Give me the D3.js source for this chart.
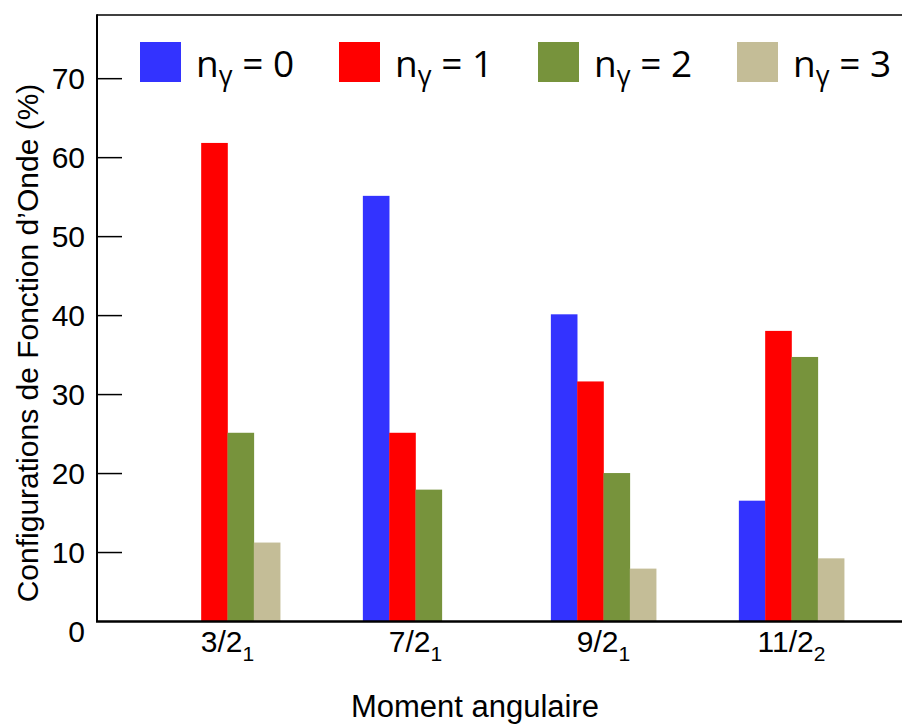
<!DOCTYPE html>
<html>
<head>
<meta charset="utf-8">
<script src="https://cdn.jsdelivr.net/npm/d3@7/dist/d3.min.js"></script>
<style>
  html, body { margin: 0; padding: 0; background: #fff; }
  svg { display: block; }
</style>
</head>
<body>
<svg id="chart" width="902" height="726"></svg>
<script>
// ---- data ----
const categories = ["3/2", "7/2", "9/2", "11/2"];
const categorySubs = ["1", "1", "1", "2"];
const seriesNames = ["0", "1", "2", "3"];
const n0 = [0, 55.1, 40.1, 16.5];
const n1 = [61.8, 25.1, 31.6, 38.0];
const n2 = [25.1, 17.9, 20.0, 34.7];
const n3 = [11.2, 0, 7.9, 9.2];
const yTicks = [0, 10, 20, 30, 40, 50, 60, 70];
const colors = ["#3333ff", "#ff0000", "#77933c", "#c4bd97"];
const series = [n0, n1, n2, n3];

(function draw() {
const svg = d3.select("#chart");
const W = 902;
const plotLeft = 97, plotTop = 15, axisBottom = 621;

const y = d3.scaleLinear().domain([0, 78]).range([631, plotTop]);
const x = d3.scaleBand().domain(categories).range([133.5, 885.5])
  .paddingInner(0.44).paddingOuter(0.22);
const xs = d3.scaleBand().domain(seriesNames).range([0, x.bandwidth()]);

// bars
categories.forEach((c, ci) => {
  const g = svg.append("g").attr("transform", `translate(${x(c)},0)`);
  series.forEach((s, si) => {
    const v = s[ci];
    const barTop = y(v);
    const h = Math.max(0, axisBottom - barTop);
    if (h > 0) {
      g.append("rect")
        .attr("x", xs(seriesNames[si]))
        .attr("y", barTop)
        .attr("width", xs.bandwidth() + 0.3)
        .attr("height", h)
        .attr("fill", colors[si]);
    }
  });
});

// y axis (inward ticks)
const yAxis = d3.axisLeft(y).tickValues(yTicks).tickSizeInner(-25).tickSizeOuter(0).tickPadding(12);
const ya = svg.append("g").attr("transform", `translate(${plotLeft},0)`).call(yAxis);
ya.select(".domain").remove();
ya.selectAll(".tick line").attr("stroke", "#000").attr("stroke-width", 1.5)
  .filter(d => d === 0).remove();
ya.selectAll(".tick text")
  .attr("font-family", "'Liberation Sans', Arial, sans-serif")
  .attr("font-size", 30).attr("fill", "#000").attr("dy", "0.36em");

// frame lines
svg.append("line").attr("x1", plotLeft).attr("x2", plotLeft).attr("y1", plotTop - 0.75).attr("y2", axisBottom + 1)
  .attr("stroke", "#000").attr("stroke-width", 2);
svg.append("line").attr("x1", plotLeft).attr("x2", W).attr("y1", plotTop).attr("y2", plotTop)
  .attr("stroke", "#000").attr("stroke-width", 1.5);
svg.append("line").attr("x1", plotLeft - 1).attr("x2", W).attr("y1", axisBottom + 0.5).attr("y2", axisBottom + 0.5)
  .attr("stroke", "#000").attr("stroke-width", 2.5);

// x axis labels
const xAxis = d3.axisBottom(x).tickSize(0).tickPadding(0).tickFormat(() => "");
const xa = svg.append("g").attr("transform", `translate(0,${axisBottom})`).call(xAxis);
xa.select(".domain").remove();
xa.selectAll(".tick").each(function(d, i) {
  const t = d3.select(this).append("text")
    .attr("y", 31)
    .attr("text-anchor", "middle")
    .attr("font-family", "'Liberation Sans', Arial, sans-serif")
    .attr("font-size", 30).attr("fill", "#000");
  t.append("tspan").text(d);
  t.append("tspan").attr("font-size", 21).attr("dy", 9).text(categorySubs[i]);
});

// axis titles
svg.append("text")
  .attr("x", 475).attr("y", 717)
  .attr("text-anchor", "middle")
  .attr("font-family", "'Liberation Sans', Arial, sans-serif")
  .attr("font-size", 31).attr("fill", "#000")
  .text("Moment angulaire");

svg.append("text")
  .attr("transform", "translate(38,343) rotate(-90)")
  .attr("text-anchor", "middle")
  .attr("font-family", "'Liberation Sans', Arial, sans-serif")
  .attr("font-size", 30).attr("fill", "#000")
  .text("Configurations de Fonction d’Onde (%)");

// legend
const legX = d3.scalePoint().domain(seriesNames).range([140, 737]);
const leg = svg.append("g");
seriesNames.forEach((n, i) => {
  const g = leg.append("g").attr("transform", `translate(${legX(n)},0)`);
  g.append("rect").attr("x", 0).attr("y", 42).attr("width", 41).attr("height", 40).attr("fill", colors[i]);
  const t = g.append("text").attr("x", 56).attr("y", 77)
    .attr("font-family", "'Open Sans', 'Noto Sans', sans-serif")
    .attr("font-size", 37).attr("fill", "#000");
  t.append("tspan").text("n");
  t.append("tspan").attr("font-size", 27).attr("dy", 8).text("γ");
  t.append("tspan").attr("dy", -8).text(" = " + n);
});
})();
</script>
</body>
</html>
